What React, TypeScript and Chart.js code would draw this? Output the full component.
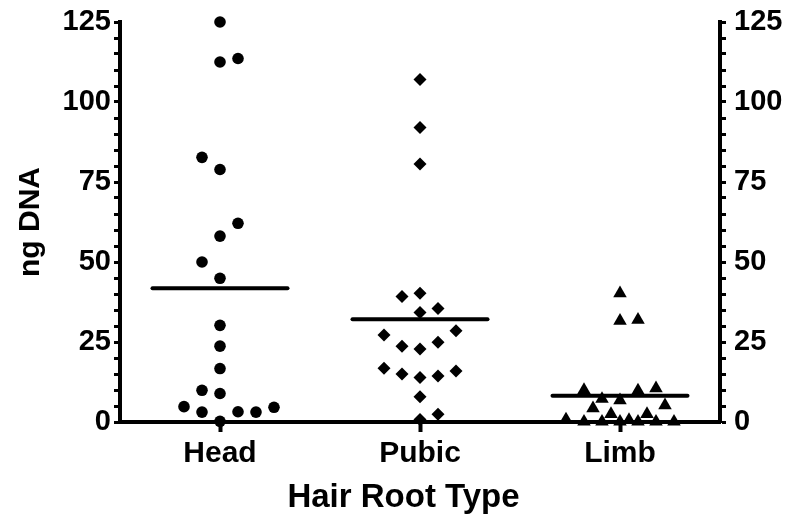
import React, { useEffect, useRef } from 'react';
import { Chart, registerables } from 'chart.js';

Chart.register(...registerables);

// Hair root categories and y-axis labelled ticks
const categories = ['Head', 'Pubic', 'Limb'];
const yTickLabels = [0, 25, 50, 75, 100, 125];

// ng DNA recovered per hair, with each point's horizontal slot inside its column
const headValues = [125, 112.5, 113.6, 82.7, 78.9, 62.1, 58.1, 50, 44.9, 30.2, 23.7, 16.7, 9.9, 8.9, 4.8, 3.1, 3.2, 3.1, 4.6, 0.2];
const headSlots = [0, 0, 1, -1, 0, 1, 0, -1, 0, 0, 0, 0, -1, 0, -2, -1, 1, 2, 3, 0];

const pubicValues = [107, 92, 80.6, 39.2, 40.2, 34.2, 35.5, 27.2, 23.7, 22.8, 24.9, 28.5, 16.8, 15, 13.9, 14.4, 15.9, 7.9, 0.8, 2.4];
const pubicSlots = [0, 0, 0, -1, 0, 0, 1, -2, -1, 0, 1, 2, -2, -1, 0, 1, 2, 0, 0, 1];

const limbValues = [40.2, 31.6, 31.9, 10, 9.8, 10.5, 7.2, 6.8, 4.3, 5.2, 2.5, 2.5, 0.8, 0.6, 0.1, 0.1, 0.1, 0.1, 0.1, 0.1];
const limbSlots = [0, 0, 1, -2, 1, 2, -1, 0, -1.5, 2.5, -0.5, 1.5, -3, 0.5, -2, -1, 0, 1, 2, 3];

const SLOT_WIDTH = 0.09; // horizontal spacing between neighbouring markers, in category units
const MEAN_HALF_WIDTH = 0.3375;
const FONT = '"Liberation Sans", Arial, Helvetica, sans-serif';

const mean = (vals: number[]) => vals.reduce((a, b) => a + b, 0) / vals.length;

const toPoints = (vals: number[], slots: number[], idx: number) =>
  vals.map((v, i) => ({ x: idx + 0.5 + slots[i] * SLOT_WIDTH, y: v }));

const meanLine = (vals: number[], idx: number) => {
  const m = mean(vals);
  return [
    { x: idx + 0.5 - MEAN_HALF_WIDTH, y: m },
    { x: idx + 0.5 + MEAN_HALF_WIDTH, y: m },
  ];
};

// Draws the x-axis title centred on the whole canvas width, below the category labels
const xTitlePlugin = {
  id: 'xTitle',
  afterDraw(chart: any) {
    const { ctx, width, height } = chart;
    ctx.save();
    ctx.fillStyle = '#000';
    ctx.font = `bold 33px ${FONT}`;
    ctx.textAlign = 'center';
    ctx.textBaseline = 'middle';
    ctx.fillText('Hair Root Type', width / 2 + 8, height - 19);
    ctx.restore();
  },
};

export default function App() {
  const canvasRef = useRef<HTMLCanvasElement | null>(null);

  useEffect(() => {
    document.body.style.margin = '0';
    const canvas = canvasRef.current;
    if (!canvas) return;

    const groups = [
      { vals: headValues, slots: headSlots, style: 'circle', radius: 5.8 },
      { vals: pubicValues, slots: pubicSlots, style: 'rectRot', radius: 6.5 },
      { vals: limbValues, slots: limbSlots, style: 'triangle', radius: 7.8 },
    ];

    const pointSets = groups.map((g, i) => ({
      type: 'scatter' as const,
      label: categories[i],
      data: toPoints(g.vals, g.slots, i),
      pointStyle: g.style,
      pointRadius: g.radius,
      pointBackgroundColor: '#000',
      pointBorderColor: '#000',
      pointBorderWidth: 0,
      showLine: false,
      clip: false as const,
      order: 1,
    }));

    const meanSets = groups.map((g, i) => ({
      type: 'line' as const,
      label: categories[i] + ' mean',
      data: meanLine(g.vals, i),
      borderColor: '#000',
      borderWidth: 4,
      borderCapStyle: 'round' as const,
      pointRadius: 0,
      fill: false,
      clip: false as const,
      order: 0,
    }));

    const tickFont = { family: FONT, size: 29, weight: 'bold' as const };

    const yAxisBase = {
      type: 'linear' as const,
      min: 0,
      max: 125,
      grid: {
        drawOnChartArea: false,
        drawTicks: true,
        tickLength: 6,
        tickWidth: 3,
        tickColor: '#000',
      },
      border: { display: true, color: '#000', width: 4 },
    };

    const yTicks = (padding: number) => ({
      stepSize: 5,
      autoSkip: false,
      color: '#000',
      font: tickFont,
      padding,
      callback: (v: any) => (yTickLabels.includes(Number(v)) ? String(v) : ''),
    });

    const fitWidth = (w: number) => (scale: any) => {
      scale.width = w;
      scale.paddingTop = 0;
      scale.paddingBottom = 0;
    };

    const chart = new Chart(canvas, {
      type: 'scatter',
      data: { datasets: [...meanSets, ...pointSets] as any },
      plugins: [xTitlePlugin],
      options: {
        responsive: false,
        animation: false,
        layout: { padding: { top: 22, left: 0, right: 0, bottom: 0 } },
        plugins: {
          legend: { display: false },
          tooltip: { enabled: false },
        },
        scales: {
          x: {
            type: 'linear',
            position: 'bottom',
            min: 0,
            max: categories.length,
            afterBuildTicks: (scale: any) => {
              scale.ticks = categories.map((_, i) => ({ value: i + 0.5 }));
            },
            afterFit: (scale: any) => {
              scale.height = 95;
              scale.paddingLeft = 0;
              scale.paddingRight = 0;
            },
            ticks: {
              autoSkip: false,
              color: '#000',
              font: { family: FONT, size: 30, weight: 'bold' },
              padding: 4,
              maxRotation: 0,
              callback: (v: any) => categories[Math.floor(Number(v))] ?? '',
            },
            grid: {
              drawOnChartArea: false,
              drawTicks: true,
              tickLength: 10,
              tickWidth: 4,
              tickColor: '#000',
            },
            border: { display: true, color: '#000', width: 4 },
            title: { display: false },
          },
          y: {
            ...yAxisBase,
            position: 'left',
            ticks: yTicks(3),
            afterFit: fitWidth(120),
            title: {
              display: true,
              text: 'ng DNA',
              color: '#000',
              font: { family: FONT, size: 30, weight: 'bold' },
              padding: { top: 13, bottom: 0 },
            },
          },
          y2: {
            ...yAxisBase,
            position: 'right',
            ticks: yTicks(8),
            afterFit: fitWidth(71),
          },
        } as any,
      },
    });

    return () => chart.destroy();
  }, []);

  return (
    <div style={{ width: 791, height: 517, background: '#fff' }}>
      <canvas ref={canvasRef} width={791} height={517} style={{ display: 'block' }} />
    </div>
  );
}
